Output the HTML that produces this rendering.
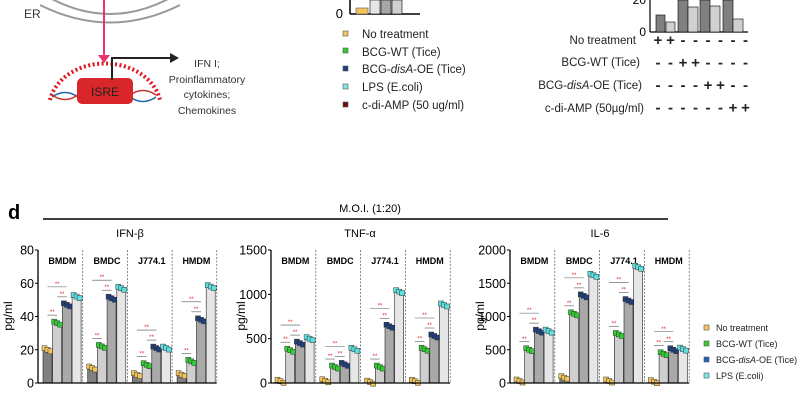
<!DOCTYPE html>
<html><head><meta charset="utf-8"><style>
body{margin:0;background:#fff;}
svg{display:block;font-family:"Liberation Sans",sans-serif;}
</style></head><body>
<svg id="fig" width="800" height="419" viewBox="0 0 800 419">
<g>
  <path d="M40 5 Q110 40 180 5" fill="none" stroke="#999" stroke-width="2"/>
  <path d="M50 -2 Q110 30 170 -2" fill="none" stroke="#999" stroke-width="2"/>
  <text x="24" y="18" font-size="12" fill="#333">ER</text>
  <line x1="104" y1="0" x2="104" y2="55" stroke="#e8336b" stroke-width="2"/>
  <polygon points="98,55 110,55 104,63" fill="#e8336b"/>
  <path d="M50 100 A56 45 0 0 1 160 100" fill="none" stroke="#e0161e" stroke-width="4" stroke-dasharray="2,2.5"/>
  <path d="M52 97 Q65 88 78 97 T104 97 T130 97 T156 97" fill="none" stroke="#2266aa" stroke-width="1.5"/>
  <path d="M52 95 Q65 104 78 95 T104 95 T130 95 T156 95" fill="none" stroke="#c0392b" stroke-width="1.5"/>
  <rect x="77" y="78" width="56" height="26" rx="5" fill="#d8262b"/>
  <text x="105" y="96" font-size="12" fill="#222" text-anchor="middle">ISRE</text>
  <polyline points="112,80 112,58 172,58" fill="none" stroke="#222" stroke-width="2"/>
  <polygon points="170,53 179,58 170,63" fill="#222"/>
  <g font-size="10.5" fill="#333" text-anchor="middle">
    <text x="207" y="67">IFN I;</text><text x="207" y="83">Proinflammatory</text><text x="207" y="98">cytokines;</text><text x="207" y="114">Chemokines</text>
  </g>
</g>
<g>
  <line x1="350" y1="0" x2="350" y2="14" stroke="#000" stroke-width="1.5"/>
  <line x1="350" y1="14" x2="420" y2="14" stroke="#000" stroke-width="1.5"/>
  <rect x="370" y="0" width="10" height="14" fill="#e6e6e6" stroke="#000" stroke-width=".6"/>
  <rect x="381" y="0" width="10" height="14" fill="#a6a6a6" stroke="#000" stroke-width=".6"/>
  <rect x="392" y="0" width="10" height="14" fill="#d0d0d0" stroke="#000" stroke-width=".6"/>
  <rect x="356" y="8" width="12" height="6" fill="#f4c55c" stroke="#555" stroke-width=".6"/>
  <text x="343" y="18" font-size="13" text-anchor="end">0</text>
</g>
<g font-size="11.5" fill="#222">
  <rect x="343" y="31" width="5" height="5" fill="#f4c55c" stroke="#555" stroke-width=".6"/><text x="362" y="38">No treatment</text>
  <rect x="343" y="48" width="5" height="5" fill="#33cc33" stroke="#555" stroke-width=".6"/><text x="362" y="56">BCG-WT (Tice)</text>
  <rect x="343" y="66" width="5" height="5" fill="#1f3e7a" stroke="#555" stroke-width=".6"/><text x="362" y="73">BCG-<tspan font-style="italic">disA</tspan>-OE (Tice)</text>
  <rect x="343" y="84" width="5" height="5" fill="#7fe6e6" stroke="#555" stroke-width=".6"/><text x="362" y="91">LPS (E.coli)</text>
  <rect x="343" y="102" width="5" height="5" fill="#6b0d0d" stroke="#555" stroke-width=".6"/><text x="362" y="109">c-di-AMP (50 ug/ml)</text>
</g>
<g>
  <line x1="650" y1="0" x2="650" y2="32" stroke="#000" stroke-width="1.2"/>
  <line x1="650" y1="32" x2="748" y2="32" stroke="#000" stroke-width="1.2"/>
  <text x="646" y="36" font-size="12" text-anchor="end">0</text>
  <text x="646" y="4" font-size="12" text-anchor="end">20</text>
  <g stroke="#000" stroke-width=".6">
  <rect x="656" y="15" width="9" height="17" fill="#808080"/><rect x="666" y="22" width="9" height="10" fill="#d0d0d0"/>
  <rect x="678" y="0" width="10" height="32" fill="#808080"/><rect x="688" y="7" width="10" height="25" fill="#d0d0d0"/>
  <rect x="700" y="0" width="10" height="32" fill="#808080"/><rect x="710" y="6" width="10" height="26" fill="#d0d0d0"/>
  <rect x="723" y="0" width="10" height="32" fill="#808080"/><rect x="733" y="19" width="10" height="13" fill="#d0d0d0"/>
  </g>
</g>
<g font-size="11.5" fill="#222">
  <text x="636" y="44" text-anchor="end">No treatment</text>
  <text x="640" y="66" text-anchor="end">BCG-WT (Tice)</text>
  <text x="642" y="89" text-anchor="end">BCG-<tspan font-style="italic">disA</tspan>-OE (Tice)</text>
  <text x="644" y="112" text-anchor="end">c-di-AMP (50µg/ml)</text>
  <g font-weight="bold" font-size="15" text-anchor="middle" id="signs"></g>
</g>
<text x="8" y="219" font-size="20" font-weight="bold">d</text>
<line x1="43" y1="219" x2="668" y2="219" stroke="#000" stroke-width="1.5"/>
<text x="370" y="212" font-size="11" text-anchor="middle">M.O.I. (1:20)</text>
<g id="charts"></g>
<g font-size="9" fill="#222">
  <rect x="704" y="325" width="5" height="5" fill="#f4c55c" stroke="#555" stroke-width=".6"/><text x="716" y="331">No treatment</text>
  <rect x="704" y="341" width="5" height="5" fill="#33cc33" stroke="#555" stroke-width=".6"/><text x="716" y="347">BCG-WT (Tice)</text>
  <rect x="704" y="357" width="5" height="5" fill="#1f5fbf" stroke="#555" stroke-width=".6"/><text x="716" y="363">BCG-<tspan font-style="italic">disA</tspan>-OE (Tice)</text>
  <rect x="704" y="373" width="5" height="5" fill="#7fe6e6" stroke="#555" stroke-width=".6"/><text x="716" y="379">LPS (E.coli)</text>
</g>
</svg>
<script>
const NS="http://www.w3.org/2000/svg";
function mk(tag,attrs,parent){const e=document.createElementNS(NS,tag);for(const k in attrs)e.setAttribute(k,attrs[k]);parent.appendChild(e);return e;}

const signRows=[["+","+","-","-","-","-","-","-"],["-","-","+","+","-","-","-","-"],["-","-","-","-","+","+","-","-"],["-","-","-","-","-","-","+","+"]];
const signG=document.getElementById('signs');
signRows.forEach((row,r)=>row.forEach((s,c)=>{
  const t=mk('text',{x:658+c*12.5,y:45+r*22.5},signG);
  
  
  t.textContent=s;
}));

const groups=["BMDM","BMDC","J774.1","HMDM"];
const ifnValues=[[20,36,47,52],[9,22,51,57],[5,11,21,21],[5,13,38,58]];
const tnfValues=[[20,370,450,500],[25,180,210,380],[10,180,640,1030],[20,380,530,880]];
const il6Values=[[30,500,780,780],[80,1040,1310,1620],[30,730,1240,1740],[20,440,500,510]];
const ifnTicks=[0,20,40,60,80];
const tnfTicks=[0,500,1000,1500];
const il6Ticks=[0,500,1000,1500,2000];
const barFill=["#808080","#cfcfcf","#a9a9a9","#e6e6e6"];
const dotFill=["#f4c55c","#33cc33","#1f3e7a","#5ce0e0"];
const dotOff=[-3,0,3];

const panels=[
 {name:"ifn-beta",title:"IFN-β",vals:ifnValues,ticks:ifnTicks,max:80,x0:38,gw:44.7,tx:130},
 {name:"tnf-alpha",title:"TNF-α",vals:tnfValues,ticks:tnfTicks,max:1500,x0:271,gw:44.8,tx:360},
 {name:"il-6",title:"IL-6",vals:il6Values,ticks:il6Ticks,max:2000,x0:510,gw:44.8,tx:600}
];
const root=document.getElementById('charts');
const yB=383,yT=250;
panels.forEach(p=>{
  const g=mk('g',{},root);
  
  
  const y=v=>yB-(v/p.max)*(yB-yT);
  const t=mk('text',{x:p.tx,y:237,'font-size':11,'text-anchor':'middle'},g);
  
  
  t.textContent=p.title;
  const yl=mk('text',{x:0,y:0,'font-size':12,'text-anchor':'middle',transform:`translate(${p.x0-26},316) rotate(-90)`},g);
  
  
  yl.textContent="pg/ml";
  p.ticks.forEach(v=>{
    const tk=mk('line',{x1:p.x0-3,x2:p.x0,y1:y(v),y2:y(v),stroke:'#000','stroke-width':1},g);
    
    
    const tl=mk('text',{x:p.x0-4,y:y(v)+4.5,'font-size':12.5,'text-anchor':'end'},g);
    
    
    tl.textContent=v;
  });
  groups.forEach((gn,gi)=>{
    const gx=p.x0+gi*p.gw;
    const dv=mk('line',{x1:gx+p.gw,x2:gx+p.gw,y1:yT,y2:yB,stroke:'#555','stroke-width':.7,'stroke-dasharray':'2,1.5'},g);
    
    
    const gl=mk('text',{x:gx+p.gw/2+2,y:264,'font-size':9,'font-weight':'bold','text-anchor':'middle'},g);
    
    
    gl.textContent=gn;
    const vals=p.vals[gi];
    vals.forEach((v,bi)=>{
      const bx=gx+5+bi*9.7;
      const r=mk('rect',{x:bx,y:y(v),width:9,height:yB-y(v),fill:barFill[bi],stroke:'#222','stroke-width':.6},g);
      
      
      dotOff.forEach((o,di)=>{
        const d=mk('rect',{x:bx+4.5+o-2.5,y:y(v)-2.5+(di-1)*1.5,width:5,height:5,fill:dotFill[bi],stroke:'#333','stroke-width':.5},g);
        
        
      });
    });
    const cx=i=>gx+5+i*9.7+4.5;
    const pairs=[[0,1,8],[1,2,8],[0,2,18]];
    pairs.forEach(([a,b,off])=>{
      const top=Math.min(y(vals[a]),y(vals[b]),y(vals[1]))-off;
      const bl=mk('line',{x1:cx(a),x2:cx(b),y1:top,y2:top,stroke:'#555','stroke-width':.6},g);
      
      
      const st=mk('text',{x:(cx(a)+cx(b))/2,y:top-1,'font-size':6,fill:'#e02020','text-anchor':'middle'},g);
      
      
      st.textContent="**";
    });
  });
  const ax=mk('line',{x1:p.x0,x2:p.x0,y1:yT,y2:yB,stroke:'#000','stroke-width':1.3},g);
  
  
  const xa=mk('line',{x1:p.x0,x2:p.x0+4*p.gw,y1:yB,y2:yB,stroke:'#000','stroke-width':1.3},g);
  
  
});
</script>
</body></html>
